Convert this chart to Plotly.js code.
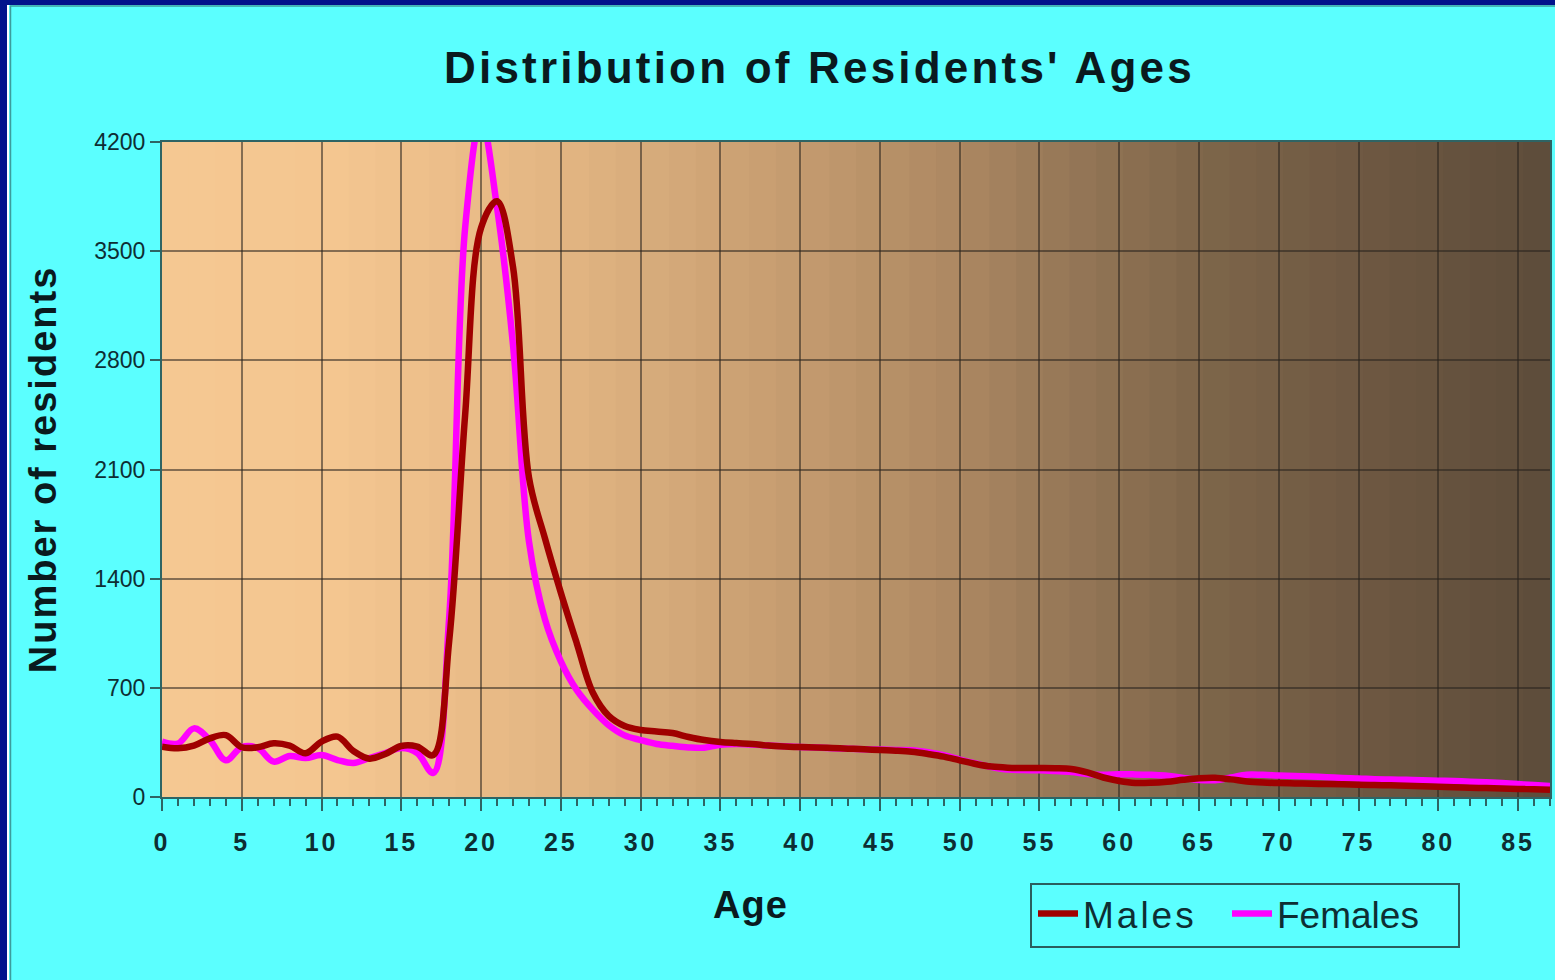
<!DOCTYPE html>
<html><head><meta charset="utf-8">
<script src="https://cdn.plot.ly/plotly-3.0.1.min.js"></script>
<style>
html,body{margin:0;padding:0;background:#5BFFFF;overflow:hidden;}
#chart{width:1555px;height:980px;}
.gtitle{letter-spacing:3.2px;}
.xtick text{letter-spacing:3px;}
.ytitle{letter-spacing:2px;}
text.legendtext{letter-spacing:3px !important;}
g.scrollbox{clip-path:none !important;}
.annotation-text{letter-spacing:1px;}
</style></head><body><div id="chart"></div>
<script>
// ---- data ----
const ages = [0,1,2,3,4,5,6,7,8,9,10,11,12,13,14,15,16,17,18,19,20,21,22,23,24,25,26,27,28,29,
  30,31,32,33,34,35,36,37,38,39,40,41,42,43,44,45,46,47,48,49,50,51,52,53,54,55,56,57,58,59,
  60,61,62,63,64,65,66,67,68,69,70,71,72,73,74,75,76,77,78,79,80,81,82,83,84,85,86,87];
const males = [323,312,329,376,397,319,319,344,329,280,355,387,295,246,276,327,323,269,1000,2450,
  3650,3820,3400,2050,1660,1310,985,670,520,455,430,420,410,385,365,353,346,340,330,324,
  320,318,314,310,306,301,297,290,276,259,235,212,195,188,186,186,185,180,158,125,
  103,90,91,98,110,120,123,113,100,93,89,87,85,83,81,79,77,75,72,69,
  66,63,60,57,55,52,49,46];
const females = [355,343,440,365,235,320,314,227,263,250,269,237,218,250,282,314,282,154,1150,3650,
  4350,3780,2900,1640,1140,870,685,560,460,395,365,340,328,318,316,335,340,336,330,325,
  320,317,313,309,306,304,302,300,287,268,240,215,192,176,173,171,166,160,148,142,
  146,145,142,137,122,109,108,125,143,142,138,135,131,127,122,119,114,112,110,108,
  105,102,98,94,89,83,77,70];
const seriesNames = ['Males','Females'];
const xTickVals = [0,5,10,15,20,25,30,35,40,45,50,55,60,65,70,75,80,85];
const xTickText = ['0','5','10','15','20','25','30','35','40','45','50','55','60','65','70','75','80','85'];
const yTickVals = [0,700,1400,2100,2800,3500,4200];
const yTickText = ['0','700','1400','2100','2800','3500','4200'];

// ---- layout helpers (pixel -> paper) ----
const W = 1555, H = 980;
const mL = 162, mR = 5, mT = 142, mB = 183;
const pw = W - mL - mR, ph = H - mT - mB;
const px = v => (v - mL) / pw;
const py = v => (H - mB - v) / ph;

function hex2rgb(h){return [parseInt(h.slice(1,3),16),parseInt(h.slice(3,5),16),parseInt(h.slice(5,7),16)];}
const bgStops = [[0,'#F5C892'],[0.13,'#F4C690'],[0.29,'#E2B582'],[0.46,'#C49B6F'],[0.575,'#AC8862'],
  [0.633,'#9B7B5A'],[0.748,'#7E664A'],[0.863,'#6E5842'],[1,'#5D4C3A']];
function colorAt(f){
  for(let i=1;i<bgStops.length;i++){
    if(f<=bgStops[i][0]){
      const a=bgStops[i-1], b=bgStops[i];
      const t=(f-a[0])/(b[0]-a[0]);
      const ca=hex2rgb(a[1]), cb=hex2rgb(b[1]);
      const c=ca.map((v,k)=>Math.round(v+(cb[k]-v)*t));
      return `rgb(${c[0]},${c[1]},${c[2]})`;
    }
  }
  return bgStops[bgStops.length-1][1];
}
const shapes = [];
const NB = 52;
for(let i=0;i<NB;i++){
  shapes.push({type:'rect',xref:'paper',yref:'paper',x0:i/NB,x1:(i+1)/NB+0.001,y0:0,y1:1,
    fillcolor:colorAt((i+0.5)/NB),line:{width:0},layer:'below'});
}
// outer frame (dark blue band top and left)
shapes.push({type:'rect',xref:'paper',yref:'paper',x0:px(0),x1:px(W),y0:py(0),y1:py(5),fillcolor:'#02138C',line:{width:0},layer:'below'});
shapes.push({type:'rect',xref:'paper',yref:'paper',x0:px(0),x1:px(7),y0:py(0),y1:py(H),fillcolor:'#02138C',line:{width:0},layer:'below'});
shapes.push({type:'rect',xref:'paper',yref:'paper',x0:px(7),x1:px(9),y0:py(5),y1:py(H),fillcolor:'#FFFFFF',line:{width:0},layer:'below'});
shapes.push({type:'line',xref:'paper',yref:'paper',x0:px(10.5),x1:px(10.5),y0:py(6),y1:py(H),line:{width:1.5,color:'#3C9C9C'},layer:'below'});
shapes.push({type:'line',xref:'paper',yref:'paper',x0:px(10),x1:px(W),y0:py(6),y1:py(6),line:{width:1.5,color:'#3C9C9C'},layer:'below'});
// legend frame
shapes.push({type:'rect',xref:'paper',yref:'paper',x0:px(1031),x1:px(1459),y0:py(947),y1:py(884),
  line:{width:2,color:'#2A5E5E'},fillcolor:'rgba(0,0,0,0)',layer:'above'});

const traces = [
  {x:ages,y:females,name:seriesNames[1],type:'scatter',mode:'lines',legend:'legend2',
   line:{color:'#FF00FF',width:6.5,shape:'spline',smoothing:1}},
  {x:ages,y:males,name:seriesNames[0],type:'scatter',mode:'lines',legend:'legend',
   line:{color:'#A00000',width:6.5,shape:'spline',smoothing:1}}
];

const textCol = '#0E2E33';
const legFont = {family:'Liberation Sans, Arial, sans-serif',size:37,color:textCol};
const layout = {
  width:W,height:H,
  margin:{l:mL,r:mR,t:mT,b:mB,pad:0},
  paper_bgcolor:'#5BFFFF',
  plot_bgcolor:'#F5C892',
  font:{family:'Liberation Sans, Arial, sans-serif',color:textCol},
  title:{text:"Distribution of Residents' Ages",xref:'container',yref:'container',
    x:0.527,y:1-68/H,xanchor:'center',yanchor:'middle',
    font:{family:'Liberation Sans, Arial, sans-serif',size:44,weight:'bold',color:'#0A1A1E'}},
  xaxis:{range:[0,87],tickvals:xTickVals,ticktext:xTickText,ticks:'outside',ticklen:12,tickwidth:2,
    tickcolor:'#2E6464',showgrid:true,gridcolor:'rgba(40,35,30,0.55)',gridwidth:2,
    showline:true,linecolor:'#2E6464',linewidth:2,mirror:true,zeroline:false,
    ticklabelstandoff:10,
    tickfont:{family:'Liberation Sans, Arial, sans-serif',size:25,weight:'bold',color:textCol},
    minor:{dtick:1,ticks:'outside',ticklen:7,tickwidth:2,tickcolor:'#2E6464',showgrid:false},
    fixedrange:true},
  yaxis:{range:[0,4200],tickvals:yTickVals,ticktext:yTickText,ticks:'outside',ticklen:10,tickwidth:2,
    tickcolor:'#2E6464',showgrid:true,gridcolor:'rgba(40,35,30,0.55)',gridwidth:2,
    showline:true,linecolor:'#2E6464',linewidth:2,mirror:true,zeroline:false,
    ticklabelstandoff:0,
    tickfont:{family:'Liberation Sans, Arial, sans-serif',size:23,color:textCol},
    title:{text:'Number of residents',standoff:26,
      font:{family:'Liberation Sans, Arial, sans-serif',size:38,weight:'bold',color:'#0A1A1E'}},
    fixedrange:true},
  showlegend:true,
  legend:{orientation:'h',x:px(1033),xanchor:'left',y:py(883),yanchor:'top',
    bgcolor:'rgba(0,0,0,0)',borderwidth:0,font:legFont,itemwidth:40},
  legend2:{orientation:'h',x:px(1227),xanchor:'left',y:py(883),yanchor:'top',
    bgcolor:'rgba(0,0,0,0)',borderwidth:0,font:legFont,itemwidth:40},
  annotations:[{text:'Age',xref:'paper',yref:'paper',x:px(750),y:py(905),xanchor:'center',yanchor:'middle',
    showarrow:false,font:{family:'Liberation Sans, Arial, sans-serif',size:38,weight:'bold',color:'#0A1A1E'}}],
  shapes:shapes
};
Plotly.newPlot('chart',traces,layout,{displayModeBar:false,staticPlot:true}).then(function(gd){
  gd.querySelectorAll('g.scrollbox').forEach(function(g){g.removeAttribute('clip-path');g.style.clipPath='none';});
  gd.querySelectorAll('text.legendtext').forEach(function(t){t.style.letterSpacing='3px';});
});
</script></body></html>
